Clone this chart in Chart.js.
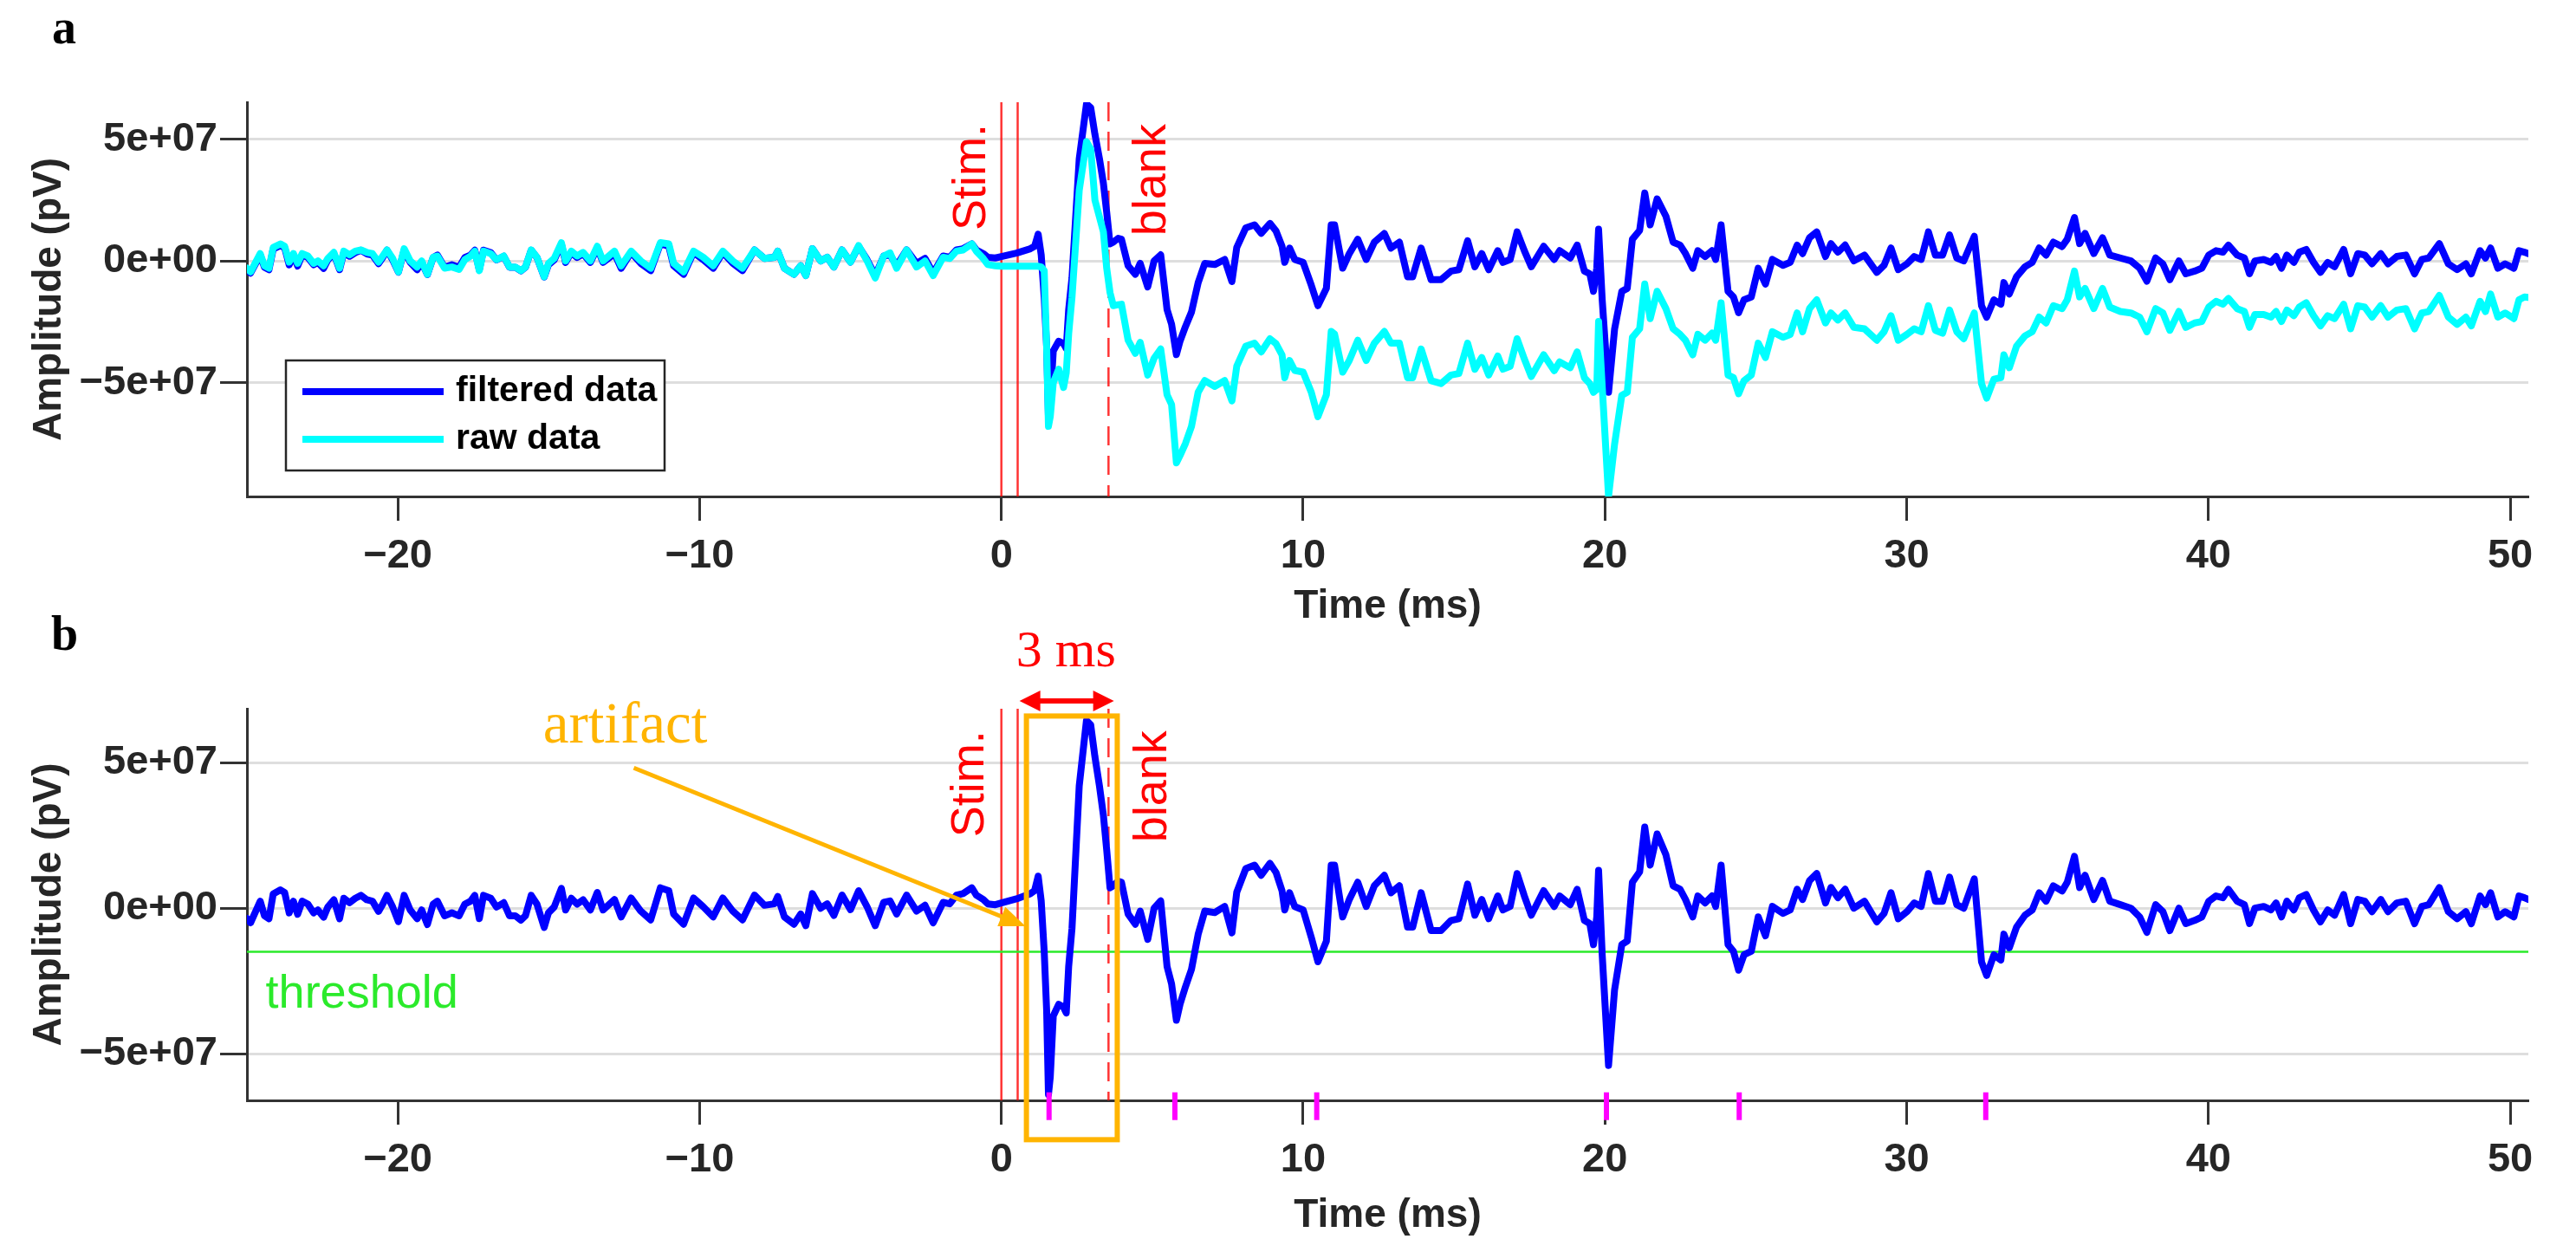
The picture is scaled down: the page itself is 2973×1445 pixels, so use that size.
<!DOCTYPE html>
<html><head><meta charset="utf-8">
<script src="https://cdn.jsdelivr.net/npm/chart.js@4.4.1/dist/chart.umd.min.js"></script>
<style>
html,body{margin:0;padding:0;background:#fff;width:2973px;height:1445px;overflow:hidden;}
#ca{position:absolute;left:0;top:0;width:2973px;height:728px;}
#cb{position:absolute;left:0;top:690px;width:2973px;height:755px;}
</style></head><body>
<canvas id="ca" width="2973" height="728"></canvas>
<canvas id="cb" width="2973" height="755"></canvas>
<script>
// ---------------- DATA ----------------
// time axis (ms)
const timeMs = [
-25.0,-24.88,-24.56,-24.42,-24.27,-24.13,-23.89,-23.75,-23.6,-23.46,
-23.32,-23.17,-22.98,-22.79,-22.65,-22.46,-22.32,-22.12,-21.93,-21.79,
-21.6,-21.41,-21.22,-21.03,-20.84,-20.64,-20.5,-20.36,-20.17,-19.98,
-19.79,-19.59,-19.36,-19.21,-19.02,-18.83,-18.69,-18.45,-18.21,-17.97,
-17.78,-17.59,-17.45,-17.3,-17.16,-16.92,-16.73,-16.49,-16.3,-16.11,
-15.92,-15.77,-15.58,-15.39,-15.15,-15.01,-14.82,-14.58,-14.44,-14.25,
-14.06,-13.86,-13.62,-13.39,-13.2,
-12.82,-12.6,-12.27,-11.95,-11.62,
-11.3,-11.02,-10.86,-10.53,-10.2,-9.88,-9.55,-9.23,-8.9,-8.58,
-8.18,-7.85,-7.52,-7.41,-7.19,-6.87,-6.65,-6.48,-6.26,-5.99,
-5.77,-5.55,-5.28,-5.0,-4.73,-4.45,-4.18,-3.9,-3.69,-3.47,
-3.14,-2.81,-2.53,-2.26,-1.93,-1.71,-1.49,-1.27,-0.98,-0.83,
-0.6,-0.45,-0.2,0,0.5,0.96,1.1,1.22,1.32,1.42,
1.5,1.56,1.62,1.72,1.9,2.06,2.15,2.23,2.34,2.58,
2.82,2.96,3.1,3.25,3.38,3.49,3.6,3.71,3.87,3.98,
4.2,4.44,4.6,4.85,5.06,5.28,5.49,5.64,5.8,5.92,
6.1,6.3,6.52,6.74,7.07,7.4,7.64,7.8,8.1,8.39,
8.61,8.9,9.1,9.3,9.39,9.55,9.72,10.0,10.27,10.49,
10.77,10.93,11.04,11.31,11.53,11.81,12.09,12.36,12.69,12.91,
13.19,13.46,13.63,13.91,14.24,14.57,14.9,15.16,15.45,15.69,
15.92,16.15,16.45,16.62,16.86,17.09,17.33,17.56,17.97,18.32,
18.5,18.85,19.08,19.32,19.5,19.62,19.73,19.79,19.91,20.12,
20.32,20.56,20.74,20.91,21.15,21.32,21.5,21.73,22.02,22.26,
22.49,22.67,22.91,23.08,23.32,23.55,23.67,23.85,24.08,24.26,
24.43,24.61,24.85,25.08,25.32,25.55,25.9,26.14,26.37,26.55,
26.78,27.02,27.31,27.49,27.72,27.96,28.25,28.6,29.01,29.25,
29.48,29.72,30.01,30.25,30.48,30.72,30.95,31.19,31.42,31.66,
31.89,32.24,32.48,32.65,32.89,33.12,33.22,33.4,33.64,33.92,
34.16,34.39,34.62,34.86,35.15,35.32,35.56,35.73,35.91,36.2,
36.49,36.73,37.08,37.43,37.72,37.96,38.25,38.49,38.72,39.02,
39.25,39.54,39.78,40.01,40.25,40.48,40.66,40.95,41.19,41.36,
41.54,41.83,42.07,42.24,42.42,42.6,42.83,43.01,43.24,43.48,
43.71,43.95,44.18,44.48,44.71,44.95,45.18,45.42,45.71,45.95,
46.24,46.54,46.83,47.07,47.3,47.65,47.95,48.24,48.53,48.71,
49.0,49.18,49.35,49.59,49.83,50.12,50.29,50.47,50.6
];
// amplitudes in units of 1e7 pV
const filteredData = [
-0.35,-0.5,0.24,-0.26,-0.36,0.49,0.63,0.54,-0.16,0.24,
-0.21,0.24,0.14,-0.16,-0.06,-0.31,0.04,0.29,-0.36,0.34,
0.19,0.34,0.44,0.29,0.24,-0.11,0.14,0.44,0.04,-0.46,
0.44,-0.06,-0.36,-0.06,-0.56,0.14,0.24,-0.26,-0.16,-0.26,
0.14,0.24,0.44,-0.36,0.44,0.34,0.04,0.19,-0.26,-0.26,
-0.41,-0.26,0.44,0.14,-0.66,-0.16,0.04,0.68,-0.06,0.34,
0.14,0.29,-0.06,0.54,-0.06,
0.3,-0.3,0.35,-0.1,-0.4,
0.7,0.6,-0.2,-0.55,0.35,0.05,-0.3,0.35,-0.1,-0.4,
0.45,0.1,0.15,0.4,-0.3,-0.55,-0.2,-0.6,0.5,0,
0.15,-0.25,0.45,-0.05,0.6,0.05,-0.6,0.2,0.25,-0.2,
0.45,-0.1,0.1,-0.5,0.2,0.15,0.45,0.5,0.7,0.45,
0.3,0.15,0.12,0.18,0.32,0.5,0.6,1.1,0.25,-1.5,
-3.5,-6.4,-5.8,-3.7,-3.3,-3.4,-3.6,-2.0,-0.7,4.2,
6.45,6.3,5.2,4.2,3.2,2.0,0.7,0.77,0.93,0.89,
-0.2,-0.55,-0.1,-1.07,0,0.25,-2.0,-2.6,-3.85,-3.3,
-2.7,-2.1,-0.9,-0.1,-0.15,0.06,-0.85,0.55,1.36,1.48,
1.13,1.54,1.23,0.6,-0.06,0.53,0.06,-0.06,-1.0,-1.84,
-1.13,1.48,1.48,-0.3,0.3,0.89,0.06,0.77,1.13,0.53,
0.77,-0.65,-0.65,0.53,-0.77,-0.77,-0.42,-0.36,0.83,-0.24,
0.3,-0.36,0.42,-0.06,0.06,1.19,0.42,-0.24,0.6,0.06,
0.42,0.12,0.65,-0.42,-0.53,-1.25,-0.3,1.3,-1.6,-5.4,
-2.8,-1.25,-1.13,0.89,1.25,2.79,1.48,2.55,1.84,0.77,
0.65,0.3,-0.3,0.42,0.18,0.42,0.06,1.48,-1.25,-1.48,
-2.13,-1.6,-1.48,-0.3,-0.95,0.06,-0.18,-0.06,0.65,0.3,
0.95,1.19,0.18,0.71,0.36,0.65,0,0.24,-0.47,-0.18,
0.53,-0.36,-0.12,0.18,0.06,1.19,0.24,0.24,1.07,0.12,
0,1.01,-1.84,-2.31,-1.6,-1.78,-0.89,-1.36,-0.65,-0.24,
-0.06,0.53,0.24,0.77,0.59,0.89,1.78,0.71,1.13,0.3,
0.95,0.24,0.12,0,-0.3,-0.83,0.12,-0.12,-0.77,0,
-0.53,-0.42,-0.3,0.24,0.42,0.36,0.65,0.24,0.12,-0.53,
0,0.06,-0.06,0.18,-0.3,0.24,-0.06,0.36,0.47,-0.06,
-0.47,-0.06,-0.24,0.47,-0.53,0.3,0.24,-0.12,0.3,-0.12,
0.18,0.24,-0.53,0.06,0.12,0.71,-0.12,-0.36,-0.12,-0.53,
0.42,0.12,0.53,-0.3,-0.12,-0.3,0.42,0.36,0.3
];
const rawData = [
-0.3,-0.45,0.3,-0.2,-0.3,0.55,0.7,0.6,-0.05,0.3,
-0.1,0.3,0.2,-0.1,0,-0.2,0.1,0.35,-0.3,0.4,
0.25,0.4,0.45,0.35,0.3,-0.05,0.2,0.45,0.1,-0.45,
0.5,0,-0.25,0,-0.55,0.15,0.2,-0.3,-0.25,-0.35,
0.05,0.2,0.4,-0.4,0.4,0.3,0.05,0.2,-0.25,-0.25,
-0.4,-0.25,0.45,0.15,-0.65,-0.1,0.1,0.75,0,0.4,
0.2,0.35,0,0.6,0,
0.4,-0.2,0.4,0,-0.3,
0.75,0.7,-0.1,-0.45,0.4,0.15,-0.2,0.4,0,-0.3,
0.45,0.1,0.15,0.4,-0.3,-0.55,-0.2,-0.6,0.5,0,
0.15,-0.25,0.45,-0.05,0.63,0,-0.7,0.2,0.33,-0.3,
0.45,-0.25,0,-0.6,0.15,0.1,0.4,0.45,0.7,0.4,
0.1,-0.15,-0.2,-0.22,-0.22,-0.22,-0.22,-0.22,-0.25,-0.4,
-3.5,-6.8,-6.4,-5.0,-4.45,-5.2,-4.6,-3.0,-1.5,2.9,
4.9,4.6,2.5,1.8,1.2,-0.3,-1.3,-1.84,-1.8,-1.78,
-3.26,-3.8,-3.35,-4.69,-4.0,-3.62,-5.5,-5.9,-8.3,-8.0,
-7.5,-6.8,-5.4,-4.92,-5.16,-4.92,-5.75,-4.33,-3.5,-3.38,
-3.74,-3.2,-3.4,-3.86,-4.8,-4.09,-4.5,-4.57,-5.4,-6.4,
-5.5,-2.9,-3.0,-4.57,-4.09,-3.26,-4.09,-3.38,-2.9,-3.38,
-3.38,-4.8,-4.8,-3.62,-4.92,-5.04,-4.69,-4.63,-3.38,-4.45,
-3.97,-4.69,-3.91,-4.45,-4.33,-3.2,-4.03,-4.75,-3.86,-4.51,
-4.15,-4.39,-3.74,-4.8,-5.04,-5.4,-5.28,-2.49,-5.16,-9.67,
-7.53,-5.52,-5.4,-3.14,-2.79,-0.95,-2.37,-1.25,-1.96,-2.79,
-3.02,-3.26,-3.86,-3.02,-3.26,-2.97,-3.26,-1.72,-4.69,-4.8,
-5.46,-4.92,-4.69,-3.38,-3.97,-2.91,-3.14,-3.02,-2.14,-2.91,
-1.96,-1.6,-2.55,-2.14,-2.43,-2.14,-2.73,-2.79,-3.26,-2.91,
-2.25,-3.26,-3.02,-2.79,-2.91,-1.84,-2.85,-2.97,-2.02,-2.91,
-3.2,-2.14,-5.04,-5.64,-4.86,-4.8,-3.86,-4.39,-3.5,-3.08,
-2.91,-2.31,-2.55,-1.84,-1.96,-1.6,-0.42,-1.48,-1.13,-1.96,
-1.13,-1.9,-2.08,-2.14,-2.31,-2.91,-1.96,-2.14,-2.85,-2.08,
-2.73,-2.55,-2.49,-1.9,-1.66,-1.78,-1.54,-1.96,-2.08,-2.73,
-2.2,-2.2,-2.31,-2.08,-2.49,-2.02,-2.25,-1.9,-1.72,-2.25,
-2.67,-2.25,-2.37,-1.78,-2.79,-1.84,-1.9,-2.31,-1.84,-2.31,
-2.02,-1.96,-2.79,-2.14,-2.08,-1.42,-2.31,-2.61,-2.31,-2.67,
-1.66,-2.08,-1.36,-2.31,-2.14,-2.37,-1.6,-1.48,-1.5
];
const seriesLabels = ['filtered data', 'raw data'];
const xTickValues = [-20, -10, 0, 10, 20, 30, 40, 50];
const xTickLabels = ['\u221220', '\u221210', '0', '10', '20', '30', '40', '50'];
const yTickValues = [-5, 0, 5];
const yTickLabels = ['\u22125e+07', '0e+00', '5e+07'];
const stimTimes = [0, 0.54];
const blankTime = [3.55];
const thresholdLevel = [-1.5];
const spikeTimes = [1.58, 5.75, 10.45, 20.05, 24.45, 32.62];
const xRange = [-25, 50.6];
const yRangeA = [-9.68, 6.52];
const yRangeB = [-6.6, 6.85];

// ---------------- STYLE / LAYOUT ----------------
const SANS = "'Liberation Sans', Arial, Helvetica, sans-serif";
const SERIF = "'Liberation Serif', 'Times New Roman', serif";
const INK = '#262626';
const BLUE = '#0000ff', CYAN = '#00ffff', RED = '#ff0000', ORANGE = '#ffb400', GREEN = '#2bea2b', MAGENTA = '#ff00ff';

function pts(ys) { return timeMs.map((t, i) => ({ x: t, y: ys[i] })); }

function scales(yr, xAxisH, xTitlePadB) {
  return {
    x: {
      type: 'linear', min: xRange[0], max: xRange[1],
      afterBuildTicks: s => { s.ticks = xTickValues.map(v => ({ value: v })); },
      afterFit: s => { s.height = xAxisH; },
      ticks: { autoSkip: false, maxRotation: 0, padding: 13, color: INK,
        font: { family: SANS, size: 47, weight: 'bold' },
        callback: v => xTickLabels[xTickValues.indexOf(v)] },
      grid: { drawOnChartArea: false, tickLength: 28, tickWidth: 3, tickColor: '#333' },
      border: { display: true, color: '#333', width: 3 },
      title: { display: true, text: 'Time (ms)', color: INK,
        font: { family: SANS, size: 46, weight: 'bold' }, padding: { top: 0, bottom: xTitlePadB } }
    },
    y: {
      type: 'linear', min: yr[0], max: yr[1],
      afterBuildTicks: s => { s.ticks = yTickValues.map(v => ({ value: v })); },
      afterFit: s => { s.width = 285; },
      ticks: { padding: 3, color: INK, font: { family: SANS, size: 47, weight: 'bold' },
        callback: v => yTickLabels[yTickValues.indexOf(v)] },
      grid: { color: '#dedede', lineWidth: 3, tickLength: 31, tickWidth: 3, tickColor: '#333' },
      border: { display: true, color: '#333', width: 3 },
      title: { display: true, text: 'Amplitude (pV)', color: INK,
        font: { family: SANS, size: 46, weight: 'bold' }, padding: { top: 30, bottom: 0 } }
    }
  };
}

function drawArrow(ctx, x0, y0, x1, y1, w, head, half, color, both) {
  const a = Math.atan2(y1 - y0, x1 - x0), c = Math.cos(a), s = Math.sin(a);
  ctx.strokeStyle = color; ctx.fillStyle = color; ctx.lineWidth = w; ctx.setLineDash([]);
  ctx.lineCap = 'butt';
  const sx = both ? x0 + c * head * 0.8 : x0, sy = both ? y0 + s * head * 0.8 : y0;
  ctx.beginPath(); ctx.moveTo(sx, sy); ctx.lineTo(x1 - c * head * 0.8, y1 - s * head * 0.8); ctx.stroke();
  const tri = (tx, ty, cc, ss) => {
    ctx.beginPath(); ctx.moveTo(tx, ty);
    ctx.lineTo(tx - head * cc + half * ss, ty - head * ss - half * cc);
    ctx.lineTo(tx - head * cc - half * ss, ty - head * ss + half * cc);
    ctx.closePath(); ctx.fill();
  };
  tri(x1, y1, c, s);
  if (both) tri(x0, y0, -c, -s);
}

const marksPlugin = {
  id: 'marks',
  beforeDatasetsDraw(chart, args, o) {
    const { ctx, chartArea: ca, scales: { x } } = chart;
    ctx.save();
    for (const v of (o.vlines || [])) {
      const px = x.getPixelForValue(v.x);
      ctx.strokeStyle = v.color; ctx.lineWidth = v.width; ctx.setLineDash(v.dash || []);
      ctx.beginPath(); ctx.moveTo(px, ca.top); ctx.lineTo(px, ca.bottom); ctx.stroke();
    }
    ctx.restore();
  },
  afterDraw(chart, args, o) {
    const { ctx, chartArea: ca, scales: { x, y } } = chart;
    ctx.save();
    if (o.box) {
      const b = o.box;
      const x0 = x.getPixelForValue(b.x0), x1 = x.getPixelForValue(b.x1);
      const y0 = y.getPixelForValue(b.y1), y1 = y.getPixelForValue(b.y0);
      ctx.strokeStyle = b.color; ctx.lineWidth = b.width; ctx.setLineDash([]);
      ctx.strokeRect(x0, y0, x1 - x0, y1 - y0);
    }
    for (const ar of (o.arrows || [])) {
      drawArrow(ctx, x.getPixelForValue(ar.x0), y.getPixelForValue(ar.y0),
        x.getPixelForValue(ar.x1), y.getPixelForValue(ar.y1),
        ar.width, ar.head, ar.half, ar.color, ar.both);
    }
    for (const t of (o.texts || [])) {
      const px = x.getPixelForValue(t.x), py = y.getPixelForValue(t.y);
      ctx.save();
      ctx.font = t.font; ctx.fillStyle = t.color;
      ctx.textAlign = t.align || 'left'; ctx.textBaseline = 'alphabetic';
      ctx.translate(px, py);
      if (t.rot) ctx.rotate(-Math.PI / 2);
      ctx.fillText(t.text, 0, 0);
      ctx.restore();
    }
    if (o.legend) {
      const L = o.legend;
      const bx = ca.left + L.left, by = ca.bottom - L.bottom - L.height;
      ctx.fillStyle = '#fff'; ctx.fillRect(bx, by, L.width, L.height);
      ctx.strokeStyle = INK; ctx.lineWidth = 2.5; ctx.setLineDash([]);
      ctx.strokeRect(bx, by, L.width, L.height);
      chart.data.datasets.slice(0, 2).forEach((ds, i) => {
        const ly = by + L.rowY[i];
        ctx.strokeStyle = ds.borderColor; ctx.lineWidth = L.lineW; ctx.lineCap = 'butt';
        ctx.beginPath(); ctx.moveTo(bx + L.lineX0, ly); ctx.lineTo(bx + L.lineX1, ly); ctx.stroke();
        ctx.fillStyle = '#000'; ctx.font = L.font; ctx.textAlign = 'left'; ctx.textBaseline = 'middle';
        ctx.fillText(ds.label, bx + L.textX, ly);
      });
    }
    if (o.letter) {
      ctx.font = 'bold 56px ' + SERIF; ctx.fillStyle = '#000';
      ctx.textAlign = 'left'; ctx.textBaseline = 'alphabetic';
      ctx.fillText(o.letter.text, o.letter.px, o.letter.py);
    }
    ctx.restore();
  }
};

const baseLine = { pointRadius: 0, pointHoverRadius: 0, tension: 0, fill: false,
  borderJoinStyle: 'round', borderCapStyle: 'round' };
const vlineStyle = { color: 'rgba(255,0,0,0.8)', width: 2.5 };

// ---------------- PANEL a ----------------
new Chart(document.getElementById('ca'), {
  type: 'line',
  data: { datasets: [
    Object.assign({ label: seriesLabels[0], data: pts(filteredData), borderColor: BLUE, borderWidth: 8, order: 1 }, baseLine),
    Object.assign({ label: seriesLabels[1], data: pts(rawData), borderColor: CYAN, borderWidth: 8, order: 0 }, baseLine)
  ] },
  options: {
    responsive: false, animation: false, devicePixelRatio: 1, events: [],
    layout: { padding: { top: 118, right: 55, left: 0, bottom: 0 } },
    scales: scales(yRangeA, 155, 0),
    plugins: {
      legend: { display: false }, tooltip: { enabled: false },
      marks: {
        vlines: [
          Object.assign({ x: stimTimes[0] }, vlineStyle),
          Object.assign({ x: stimTimes[1] }, vlineStyle),
          Object.assign({ x: blankTime[0], dash: [22, 12] }, vlineStyle)
        ],
        texts: [
          { text: 'Stim.', x: -0.55, y: 1.25, rot: true, font: '54px ' + SANS, color: RED },
          { text: 'blank', x: 5.44, y: 1.03, rot: true, font: '54px ' + SANS, color: RED }
        ],
        legend: { left: 45, bottom: 30, width: 437, height: 127, rowY: [36, 91],
          lineX0: 19, lineX1: 182, textX: 196, lineW: 8, font: 'bold 41px ' + SANS },
        letter: { text: 'a', px: 60, py: 50 }
      }
    }
  },
  plugins: [marksPlugin]
});

// ---------------- PANEL b ----------------
new Chart(document.getElementById('cb'), {
  type: 'line',
  data: { datasets: [
    Object.assign({ label: seriesLabels[0], data: pts(filteredData), borderColor: BLUE, borderWidth: 8, order: 1 }, baseLine),
    Object.assign({ label: 'threshold', data: [{ x: xRange[0], y: thresholdLevel[0] }, { x: xRange[1], y: thresholdLevel[0] }],
      borderColor: GREEN, borderWidth: 2.5, order: 2 }, baseLine),
    { label: 'spikes', data: spikeTimes.map(t => ({ x: t, y: -6.8 })), showLine: false,
      pointStyle: 'line', pointRadius: 16, pointHoverRadius: 16, pointRotation: 90,
      pointBorderColor: MAGENTA, pointBorderWidth: 6, borderColor: MAGENTA, clip: false, order: 0 }
  ] },
  options: {
    responsive: false, animation: false, devicePixelRatio: 1, events: [],
    layout: { padding: { top: 128, right: 55, left: 0, bottom: 0 } },
    scales: scales(yRangeB, 175, 14),
    plugins: {
      legend: { display: false }, tooltip: { enabled: false },
      marks: {
        vlines: [
          Object.assign({ x: stimTimes[0] }, vlineStyle),
          Object.assign({ x: stimTimes[1] }, vlineStyle),
          Object.assign({ x: blankTime[0], dash: [22, 12] }, vlineStyle)
        ],
        box: { x0: 0.83, x1: 3.84, y0: -7.95, y1: 6.6, color: ORANGE, width: 6 },
        arrows: [
          { x0: -12.18, y0: 4.82, x1: 0.8, y1: -0.62, width: 5, head: 30, half: 12, color: ORANGE, both: false },
          { x0: 0.6, y0: 7.12, x1: 3.73, y1: 7.12, width: 6, head: 24, half: 12, color: RED, both: true }
        ],
        texts: [
          { text: 'Stim.', x: -0.6, y: 2.44, rot: true, font: '54px ' + SANS, color: RED },
          { text: 'blank', x: 5.47, y: 2.26, rot: true, font: '54px ' + SANS, color: RED },
          { text: 'artifact', x: -15.19, y: 5.68, font: '67px ' + SERIF, color: ORANGE },
          { text: '3 ms', x: 2.14, y: 8.32, font: '60px ' + SERIF, color: RED, align: 'center' },
          { text: 'threshold', x: -24.38, y: -3.42, font: '54px ' + SANS, color: GREEN }
        ],
        letter: { text: 'b', px: 59, py: 60 }
      }
    }
  },
  plugins: [marksPlugin]
});
</script></body></html>
